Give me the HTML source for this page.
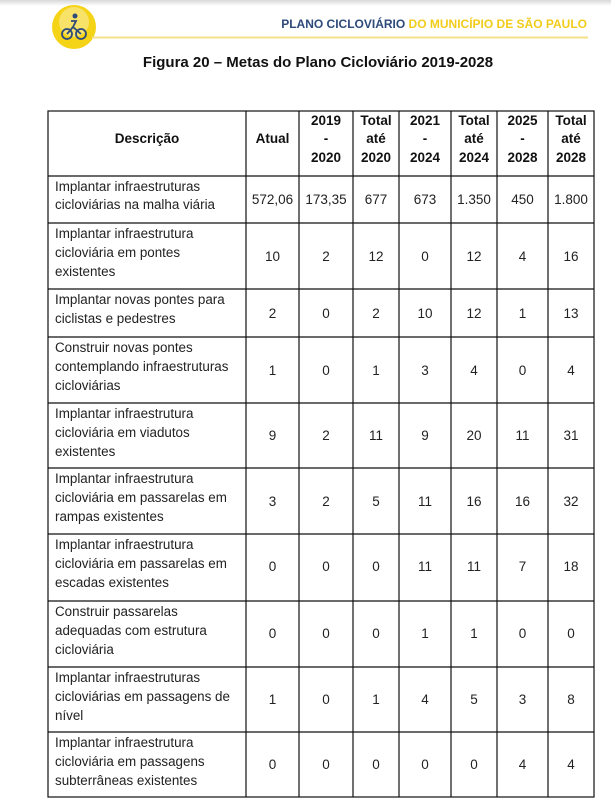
<!DOCTYPE html>
<html><head><meta charset="utf-8"><style>
html,body{margin:0;padding:0;background:#fff;}
svg{display:block;}
text{font-family:"Liberation Sans",Arial,sans-serif;}
</style></head><body>
<svg width="611" height="806" viewBox="0 0 611 806" xmlns="http://www.w3.org/2000/svg">
<defs><linearGradient id="sh" x1="0" y1="0" x2="0" y2="1"><stop offset="0" stop-color="#d8d8d8"/><stop offset="1" stop-color="#fff"/></linearGradient></defs>
<rect x="0" y="0" width="611" height="6" fill="url(#sh)"/>
<circle cx="74" cy="27" r="22" fill="#f5d317"/>
<circle cx="74" cy="22" r="15" fill="#fff" opacity="0.35"/>
<circle cx="67" cy="34" r="5" fill="none" stroke="#2d4a7a" stroke-width="1.8"/>
<circle cx="81" cy="34" r="5" fill="none" stroke="#2d4a7a" stroke-width="1.8"/>
<path d="M67 34 L73 27 L81 34 M73 27 L76 21 L71 21" fill="none" stroke="#2d4a7a" stroke-width="1.8"/>
<circle cx="75" cy="16" r="2.5" fill="#2d4a7a"/>
<text x="587" y="28" text-anchor="end" font-size="12" font-weight="bold"><tspan fill="#2d4a7a">PLANO CICLOVIÁRIO </tspan><tspan fill="#f2cc1a">DO MUNICÍPIO DE SÃO PAULO</tspan></text>
<line x1="92" y1="37.5" x2="588" y2="37.5" stroke="#f5e08a" stroke-width="2"/>
<text x="318" y="67" text-anchor="middle" font-size="15" font-weight="bold" fill="#111">Figura 20 – Metas do Plano Cicloviário 2019-2028</text>
<g stroke="#111" stroke-width="1.2" fill="none">
<rect x="48" y="111" width="546" height="686"/>
<line x1="246" y1="111" x2="246" y2="797"/><line x1="299" y1="111" x2="299" y2="797"/><line x1="353" y1="111" x2="353" y2="797"/><line x1="399" y1="111" x2="399" y2="797"/><line x1="451" y1="111" x2="451" y2="797"/><line x1="497" y1="111" x2="497" y2="797"/><line x1="548" y1="111" x2="548" y2="797"/>
<line x1="48" y1="176" x2="594" y2="176"/><line x1="48" y1="223" x2="594" y2="223"/><line x1="48" y1="289" x2="594" y2="289"/><line x1="48" y1="337" x2="594" y2="337"/><line x1="48" y1="403" x2="594" y2="403"/><line x1="48" y1="468" x2="594" y2="468"/><line x1="48" y1="534" x2="594" y2="534"/><line x1="48" y1="601" x2="594" y2="601"/><line x1="48" y1="667" x2="594" y2="667"/><line x1="48" y1="732" x2="594" y2="732"/>
</g>
<g font-size="13.5" font-weight="bold" fill="#111" text-anchor="middle">
<text x="147" y="143">Descrição</text><text x="272.5" y="143">Atual</text>
<text x="326" y="125">2019</text><text x="326" y="143">-</text><text x="326" y="162">2020</text>
<text x="376" y="125">Total</text><text x="376" y="143">até</text><text x="376" y="162">2020</text>
<text x="425" y="125">2021</text><text x="425" y="143">-</text><text x="425" y="162">2024</text>
<text x="474" y="125">Total</text><text x="474" y="143">até</text><text x="474" y="162">2024</text>
<text x="522.5" y="125">2025</text><text x="522.5" y="143">-</text><text x="522.5" y="162">2028</text>
<text x="571" y="125">Total</text><text x="571" y="143">até</text><text x="571" y="162">2028</text>
</g>
<g font-size="13.4" fill="#222">
<text x="55" y="191">Implantar infraestruturas</text><text x="55" y="209">cicloviárias na malha viária</text>
<text x="55" y="238">Implantar infraestrutura</text><text x="55" y="257">cicloviária em pontes</text><text x="55" y="276">existentes</text>
<text x="55" y="304">Implantar novas pontes para</text><text x="55" y="323">ciclistas e pedestres</text>
<text x="55" y="352">Construir novas pontes</text><text x="55" y="371">contemplando infraestruturas</text><text x="55" y="390">cicloviárias</text>
<text x="55" y="418">Implantar infraestrutura</text><text x="55" y="437">cicloviária em viadutos</text><text x="55" y="456">existentes</text>
<text x="55" y="483">Implantar infraestrutura</text><text x="55" y="502">cicloviária em passarelas em</text><text x="55" y="521">rampas existentes</text>
<text x="55" y="549">Implantar infraestrutura</text><text x="55" y="568">cicloviária em passarelas em</text><text x="55" y="587">escadas existentes</text>
<text x="55" y="616">Construir passarelas</text><text x="55" y="635">adequadas com estrutura</text><text x="55" y="654">cicloviária</text>
<text x="55" y="682">Implantar infraestruturas</text><text x="55" y="701">cicloviárias em passagens de</text><text x="55" y="720">nível</text>
<text x="55" y="747">Implantar infraestrutura</text><text x="55" y="766">cicloviária em passagens</text><text x="55" y="785">subterrâneas existentes</text>
</g>
<g font-size="13.5" fill="#222" text-anchor="middle">
<g transform="translate(0,204)"><text x="272.5">572,06</text><text x="326">173,35</text><text x="376">677</text><text x="425">673</text><text x="474">1.350</text><text x="522.5">450</text><text x="571">1.800</text></g>
<g transform="translate(0,261)"><text x="272.5">10</text><text x="326">2</text><text x="376">12</text><text x="425">0</text><text x="474">12</text><text x="522.5">4</text><text x="571">16</text></g>
<g transform="translate(0,318)"><text x="272.5">2</text><text x="326">0</text><text x="376">2</text><text x="425">10</text><text x="474">12</text><text x="522.5">1</text><text x="571">13</text></g>
<g transform="translate(0,375)"><text x="272.5">1</text><text x="326">0</text><text x="376">1</text><text x="425">3</text><text x="474">4</text><text x="522.5">0</text><text x="571">4</text></g>
<g transform="translate(0,440)"><text x="272.5">9</text><text x="326">2</text><text x="376">11</text><text x="425">9</text><text x="474">20</text><text x="522.5">11</text><text x="571">31</text></g>
<g transform="translate(0,506)"><text x="272.5">3</text><text x="326">2</text><text x="376">5</text><text x="425">11</text><text x="474">16</text><text x="522.5">16</text><text x="571">32</text></g>
<g transform="translate(0,571)"><text x="272.5">0</text><text x="326">0</text><text x="376">0</text><text x="425">11</text><text x="474">11</text><text x="522.5">7</text><text x="571">18</text></g>
<g transform="translate(0,638)"><text x="272.5">0</text><text x="326">0</text><text x="376">0</text><text x="425">1</text><text x="474">1</text><text x="522.5">0</text><text x="571">0</text></g>
<g transform="translate(0,704)"><text x="272.5">1</text><text x="326">0</text><text x="376">1</text><text x="425">4</text><text x="474">5</text><text x="522.5">3</text><text x="571">8</text></g>
<g transform="translate(0,769)"><text x="272.5">0</text><text x="326">0</text><text x="376">0</text><text x="425">0</text><text x="474">0</text><text x="522.5">4</text><text x="571">4</text></g>
</g>
</svg>
</body></html>
